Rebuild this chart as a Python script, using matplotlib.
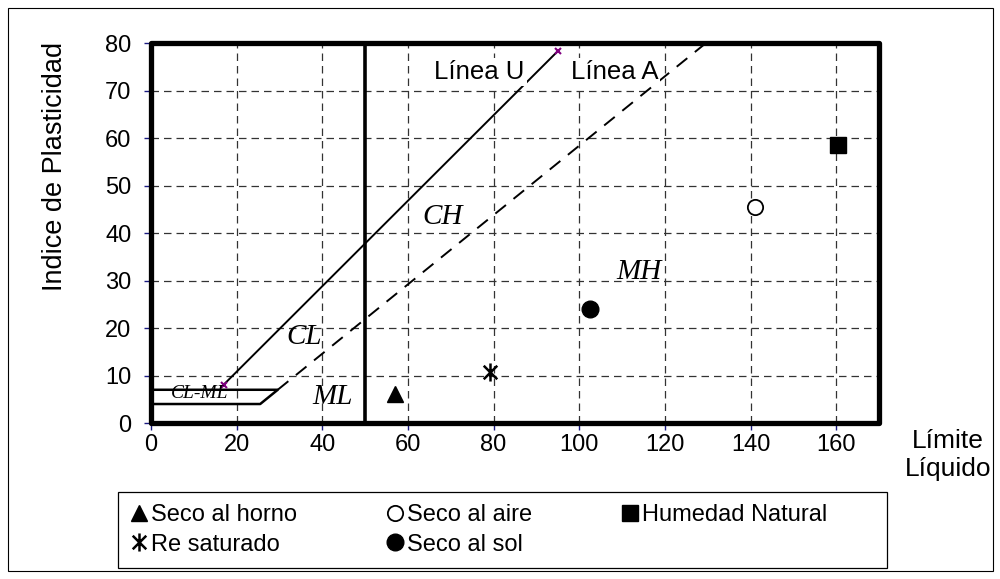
import matplotlib
matplotlib.use("Agg")
import matplotlib.pyplot as plt
from matplotlib.path import Path
from matplotlib.patches import Rectangle

plt.rcParams['font.family'] = ['Liberation Sans', 'DejaVu Sans']

# Sample points (Límite Líquido, Indice de Plasticidad)
sample_names = ["Seco al horno", "Re saturado", "Seco al aire", "Seco al sol", "Humedad Natural"]
sample_ll = [57.0, 79.1, 141.0, 102.5, 160.5]
sample_pi = [6.2, 10.8, 45.5, 24.0, 58.5]

# Reference lines of the plasticity chart
u_line_ll = [17.0, 95.0]
u_line_pi = [8.1, 78.3]
a_line_ll = [29.6, 129.6]
a_line_pi = [7.0, 80.0]
ll_divide = 50
cl_ml_ll = [0.0, 29.6, 25.5, 0.0]
cl_ml_pi = [7.0, 7.0, 4.0, 4.0]

x_ticks = [0, 20, 40, 60, 80, 100, 120, 140, 160]
y_ticks = [0, 10, 20, 30, 40, 50, 60, 70, 80]

# Zone labels: (text, LL, PI)
zone_labels = [("CH", 68.0, 43.4), ("CL", 35.7, 18.1), ("ML", 42.4, 5.5),
               ("MH", 114.0, 31.8)]
cl_ml_label = ("CL-ML", 11.4, 6.3)
line_labels = [("Línea U", 76.7, 73.9), ("Línea A", 108.2, 73.9)]

# asterisk-like marker: vertical bar plus a cross
star_path = Path(
    [(0, -1), (0, 1), (-0.75, -0.75), (0.75, 0.75), (-0.75, 0.75), (0.75, -0.75)],
    [Path.MOVETO, Path.LINETO, Path.MOVETO, Path.LINETO, Path.MOVETO, Path.LINETO])

styles = {
    "Seco al horno": dict(marker="^", mfc="black", mec="black", ms=12),
    "Re saturado": dict(marker=star_path, mfc="none", mec="black", ms=13, mew=1.8),
    "Seco al aire": dict(marker="o", mfc="white", mec="black", ms=11, mew=1.3),
    "Seco al sol": dict(marker="o", mfc="black", mec="black", ms=12),
    "Humedad Natural": dict(marker="s", mfc="black", mec="black", ms=11),
}

fig = plt.figure(figsize=(10, 5.79), dpi=100)
ax = fig.add_axes([0.151, 0.2694, 0.728, 0.6563])
ax.set_xlim(0, 170)
ax.set_ylim(0, 80)
ax.set_xticks(x_ticks)
ax.set_yticks(y_ticks)
ax.tick_params(direction="out", length=5, width=1, color="#1a1a80",
               labelsize=17)
ax.tick_params(axis="x", pad=3)
ax.tick_params(axis="y", pad=9)
ax.grid(True, linestyle=(0, (6, 4)), color="#333333", linewidth=0.9)
ax.set_axisbelow(True)
for s in ax.spines.values():
    s.set_visible(False)

# chart lines
ax.plot(u_line_ll, u_line_pi, color="black", lw=1.4, zorder=3)
ax.plot(u_line_ll, u_line_pi, ls="none", marker="x", color="#800080",
        ms=4, mew=1.5, zorder=4)
ax.plot(a_line_ll, a_line_pi, color="black", lw=1.4, ls=(0, (7, 5)), zorder=3)
ax.plot([ll_divide, ll_divide], [0, 80], color="black", lw=2.6, zorder=3)
ax.plot(cl_ml_ll, cl_ml_pi, color="black", lw=1.8, zorder=3)

for txt, x, y in zone_labels:
    ax.text(x, y, txt, family="Liberation Serif", style="italic", fontsize=21,
            ha="center", va="center", zorder=5)
ax.text(cl_ml_label[1], cl_ml_label[2], cl_ml_label[0], family="Liberation Serif",
        style="italic", fontsize=14, ha="center", va="center", zorder=5)
for txt, x, y in line_labels:
    ax.text(x, y, txt, fontsize=18.5, ha="center", va="center", zorder=5,
            bbox=dict(facecolor="white", edgecolor="none", pad=1.5))

handles = {}
for name, x, y in zip(sample_names, sample_ll, sample_pi):
    h, = ax.plot([x], [y], ls="none", label=name, zorder=6, **styles[name])
    handles[name] = h

# thick frame with rounded corners
ax.add_patch(Rectangle((0, 0), 1, 1, transform=ax.transAxes, fill=False,
                       lw=3.8, edgecolor="black", joinstyle="round",
                       clip_on=False, zorder=7))

fig.text(0.055, 0.713, "Indice de Plasticidad", rotation=90, fontsize=19.5,
         ha="center", va="center")
fig.text(0.948, 0.214, "Límite\nLíquido", fontsize=19, ha="center",
         va="center", linespacing=1.2)

order = ["Seco al horno", "Re saturado", "Seco al aire", "Seco al sol", "Humedad Natural"]
leg = fig.legend([handles[n] for n in order], order, ncol=3, loc="center left",
                 bbox_to_anchor=(0.131, 0.0846), fontsize=17, frameon=False,
                 handlelength=0.7, handletextpad=0.15, borderaxespad=0,
                 borderpad=0, labelspacing=0.3, columnspacing=3.8)

# legend box
fig.patches.append(Rectangle((0.118, 0.019), 0.769, 0.131, transform=fig.transFigure,
                             fill=False, lw=0.9, edgecolor="black"))

# outer figure border
fig.patches.append(Rectangle((0.008, 0.014), 0.985, 0.972, transform=fig.transFigure,
                             fill=False, lw=0.8, edgecolor="black"))

fig.savefig("out.png", dpi=100, facecolor="white")
